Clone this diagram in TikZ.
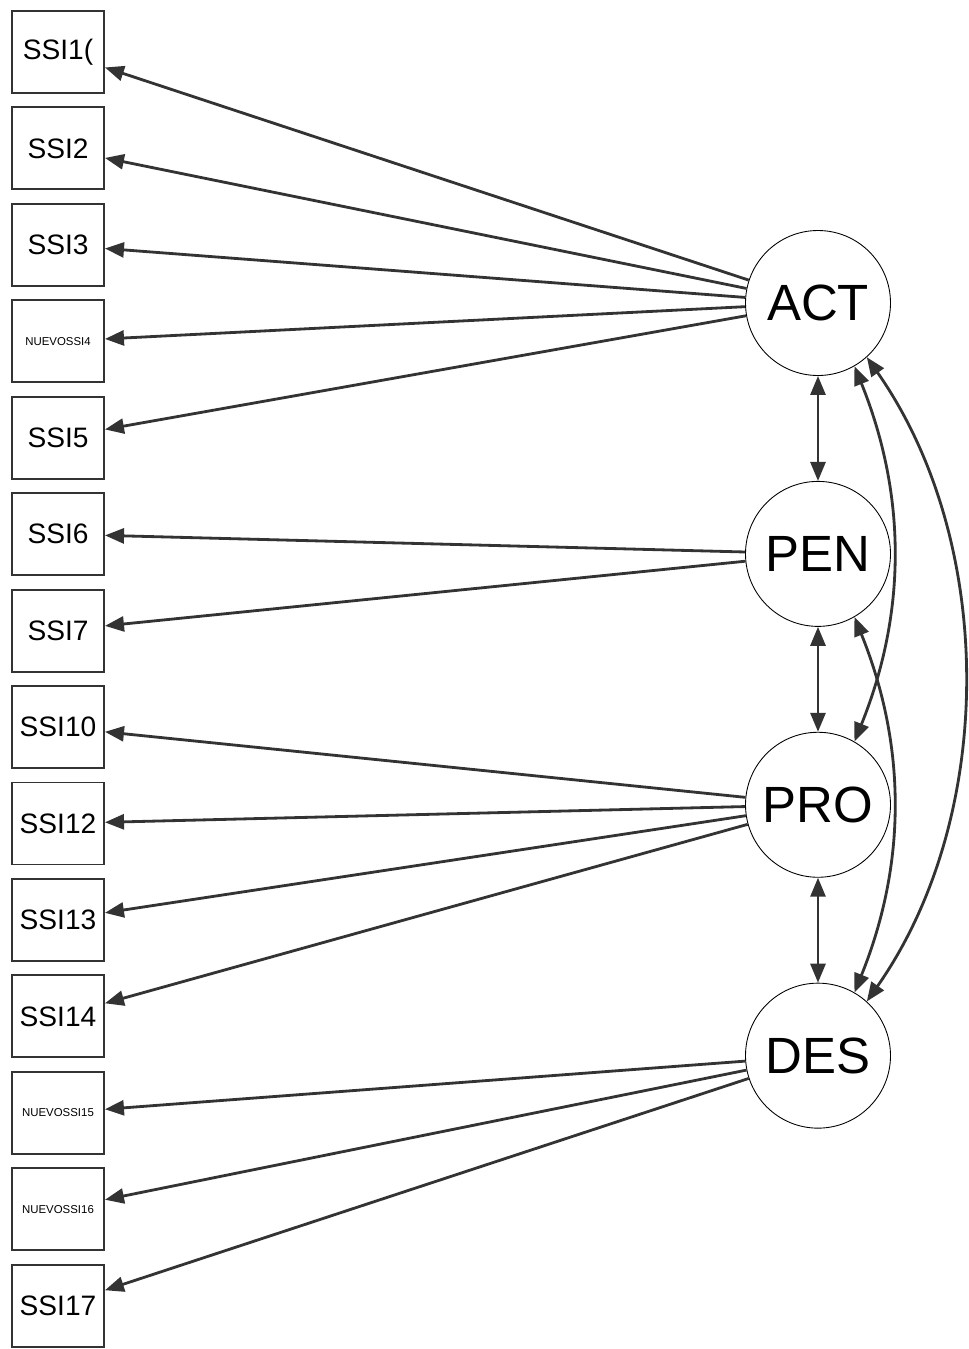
\documentclass[tikz,border=0pt]{standalone}
\usepackage{fontspec}
\setmainfont{Liberation Sans}
\usepackage{xcolor}
\usetikzlibrary{arrows.meta,positioning,shapes.geometric}
\definecolor{edgegray}{HTML}{333333}

\begin{document}
\begin{tikzpicture}[
    node distance=0.25cm,
    item/.style={rectangle, draw=edgegray, line width=1.1pt, minimum width=1.84cm, minimum height=1.64cm, inner sep=0pt, font=\fontsize{16}{16}\selectfont},
    tinyitem/.style={item, font=\fontsize{6.5}{7}\selectfont},
    factor/.style={circle, draw=black, line width=0.5pt, minimum size=2.9cm, inner sep=0pt, font=\fontsize{29}{29}\selectfont},
    load/.style={-{Triangle[length=3.8mm,width=3mm]}, draw=edgegray, line width=1.6pt},
    cov/.style={{Triangle[length=3.8mm,width=3mm]}-{Triangle[length=3.8mm,width=3mm]}, draw=edgegray, line width=1.6pt}
]
\useasboundingbox (0,0) rectangle (19.36,-26.98);

% observed items
\node[item] (i1) at (1.16,-1.04) {SSI1(};
\node[item, below=of i1] (i2) {SSI2};
\node[item, below=of i2] (i3) {SSI3};
\node[tinyitem, below=of i3] (i4) {NUEVOSSI4};
\node[item, below=of i4] (i5) {SSI5};
\node[item, below=of i5] (i6) {SSI6};
\node[item, below=of i6] (i7) {SSI7};
\node[item, below=of i7] (i10) {SSI10};
\node[item, below=of i10] (i12) {SSI12};
\node[item, below=of i12] (i13) {SSI13};
\node[item, below=of i13] (i14) {SSI14};
\node[tinyitem, below=of i14] (i15) {NUEVOSSI15};
\node[tinyitem, below=of i15] (i16) {NUEVOSSI16};
\node[item, below=of i16] (i17) {SSI17};

% latent factors
\node[factor] (act) at (16.36,-6.06) {ACT};
\node[factor, below=2.1cm of act] (pen) {PEN};
\node[factor, below=2.1cm of pen] (pro) {PRO};
\node[factor, below=2.1cm of pro] (des) {DES};

% loadings
\draw[load] (act) -- (i1);
\draw[load] (act) -- (i2);
\draw[load] (act) -- (i3);
\draw[load] (act) -- (i4);
\draw[load] (act) -- (i5);
\draw[load] (pen) -- (i6);
\draw[load] (pen) -- (i7);
\draw[load] (pro) -- (i10);
\draw[load] (pro) -- (i12);
\draw[load] (pro) -- (i13);
\draw[load] (pro) -- (i14);
\draw[load] (des) -- (i15);
\draw[load] (des) -- (i16);
\draw[load] (des) -- (i17);

% covariances
\draw[cov] (act) -- (pen);
\draw[cov] (pen) -- (pro);
\draw[cov] (pro) -- (des);
\draw[cov] (act.-60) to[out=-68, in=68, looseness=0.95] (pro.60);
\draw[cov] (pen.-60) to[out=-68, in=68, looseness=0.95] (des.60);
\draw[cov] (act.-48) to[out=-55, in=55, looseness=0.9] (des.48);
\end{tikzpicture}
\end{document}
